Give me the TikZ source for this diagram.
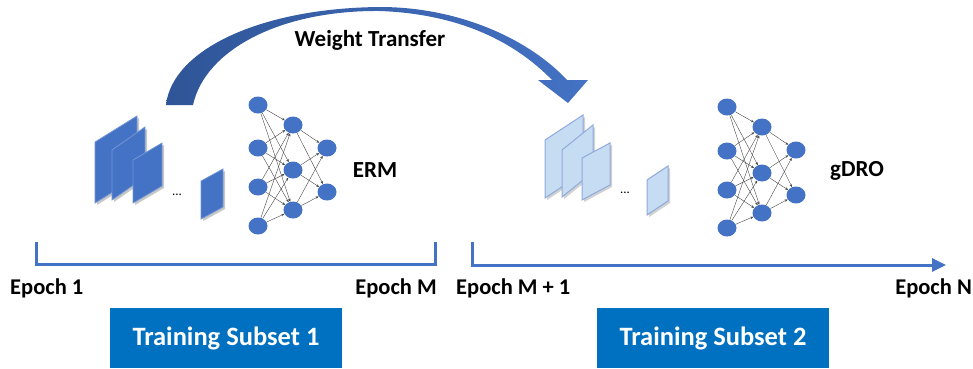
\documentclass[tikz,border=0pt]{standalone}
\usepackage{fontspec}
\setmainfont{Carlito}
\usetikzlibrary{shapes.geometric, arrows.meta, calc, positioning}
\definecolor{netblue}{HTML}{4472C4}
\definecolor{arcdark}{HTML}{2F5597}
\definecolor{boxblue}{HTML}{0070C0}
\definecolor{mapfill}{HTML}{C5DCF2}
\definecolor{mapedge}{HTML}{8FAADC}
\tikzset{
  neuron/.style={ellipse,fill=netblue,minimum width=19pt,minimum height=17pt,inner sep=0pt},
  synapse/.style={draw=gray!55!black,line width=0.4pt,-{Stealth[length=3pt,width=2.5pt]}},
  epochtext/.style={font=\bfseries\fontsize{22.5}{26}\selectfont,inner sep=0pt},
  subsetbox/.style={fill=boxblue,text=white,minimum width=232pt,minimum height=60pt,inner sep=0pt,font=\bfseries\fontsize{26.5}{30}\selectfont},
  timeline/.style={draw=netblue,line width=3pt,line join=miter},
}

\begin{document}
\begin{tikzpicture}[x=1pt,y=-1pt]
\useasboundingbox (0,0) rectangle (973,368);

% weight transfer arc
\shade[left color=arcdark,right color=netblue]
  (166,105) .. controls (172,50) and (260,8) .. (380,7)
  .. controls (460,7) and (530,40) .. (567,80)
  -- (588,80) -- (568,103) -- (538,80) -- (552,80)
  .. controls (515,42) and (460,14) .. (380,11)
  .. controls (280,10) and (205,50) .. (193,105) -- cycle;
\node[font=\bfseries\fontsize{23}{26}\selectfont] (transfer) at (370,40) {Weight Transfer};

% feature maps, ERM side
\foreach \x/\y/\w/\h/\r in {95/142/42/61/26,112/150/33/50/23,133/160/29/43/17,201/181/22/38/12}{
  \fill[black!22] (\x+2,\y+\h+2) -- (\x+2,\y+2) -- (\x+\w+2,\y-\r+2) -- (\x+\w+2,\y-\r+\h+2) -- cycle;
  \filldraw[fill=netblue,draw=netblue!75!white,line width=0.8pt] (\x,\y+\h) -- (\x,\y) -- (\x+\w,\y-\r) -- (\x+\w,\y-\r+\h) -- cycle;
};
\node[font=\fontsize{13}{15}\selectfont] (dots-erm) at (177,195) {...};

% feature maps, gDRO side
\foreach \x/\y/\w/\h/\r in {545/140/38/58/25,562/150/31/47/25,582/158/28/42/15,647/180/21/35/14}{
  \fill[black!18] (\x+2,\y+\h+2) -- (\x+2,\y+2) -- (\x+\w+2,\y-\r+2) -- (\x+\w+2,\y-\r+\h+2) -- cycle;
  \filldraw[fill=mapfill,draw=mapedge,line width=1pt] (\x,\y+\h) -- (\x,\y) -- (\x+\w,\y-\r) -- (\x+\w,\y-\r+\h) -- cycle;
};
\node[font=\fontsize{13}{15}\selectfont] (dots-gdro) at (625,193) {...};

% ERM network
\foreach \y [count=\i] in {105,148,187,226}{
  \node[neuron] (erm-1-\i) at (258,\y) {};
};
\foreach \y [count=\i] in {125,170,210}{
  \node[neuron] (erm-2-\i) at (293,\y) {};
};
\foreach \y [count=\i] in {148,192}{
  \node[neuron] (erm-3-\i) at (327,\y) {};
};
\foreach \i in {1,2,3,4}{
  \foreach \j in {1,2,3}{
    \draw[synapse] (erm-1-\i) -- (erm-2-\j);
  };
};
\foreach \i in {1,2,3}{
  \foreach \j in {1,2}{
    \draw[synapse] (erm-2-\i) -- (erm-3-\j);
  };
};
\node[font=\bfseries\fontsize{23}{26}\selectfont] (erm) at (375,170) {ERM};

% gDRO network
\foreach \y [count=\i] in {107,151,190,228}{
  \node[neuron] (gdro-1-\i) at (727,\y) {};
};
\foreach \y [count=\i] in {127,173,213}{
  \node[neuron] (gdro-2-\i) at (762,\y) {};
};
\foreach \y [count=\i] in {150,195}{
  \node[neuron] (gdro-3-\i) at (796,\y) {};
};
\foreach \i in {1,2,3,4}{
  \foreach \j in {1,2,3}{
    \draw[synapse] (gdro-1-\i) -- (gdro-2-\j);
  };
};
\foreach \i in {1,2,3}{
  \foreach \j in {1,2}{
    \draw[synapse] (gdro-2-\i) -- (gdro-3-\j);
  };
};
\node[font=\bfseries\fontsize{23}{26}\selectfont] (gdro) at (857,171) {gDRO};

% epoch brackets
\coordinate (first-top) at (36,242);
\coordinate (first-bot) at (36,264);
\coordinate (mid-bot) at (435,264);
\coordinate (mid-top) at (435,242);
\draw[timeline] (first-top) -- (first-bot) -- (mid-bot) -- (mid-top);
\coordinate (next-top) at (472,242);
\coordinate (next-bot) at (472,265);
\coordinate (last) at (946,265);
\draw[timeline,-{Triangle[length=14pt,width=13pt]}] (next-top) -- (next-bot) -- (last);

\node[epochtext,anchor=west] (epoch-1) at (10,288) {Epoch 1};
\node[epochtext,anchor=east] (epoch-m) at (437,288) {Epoch M};
\node[epochtext,anchor=west] (epoch-m1) at (456,288) {Epoch M + 1};
\node[epochtext,anchor=east] (epoch-n) at (972,288) {Epoch N};

% training subsets
\node[subsetbox] (subset-1) at (226,338) {Training Subset 1};
\node[subsetbox] (subset-2) at (713,338) {Training Subset 2};
\end{tikzpicture}
\end{document}
